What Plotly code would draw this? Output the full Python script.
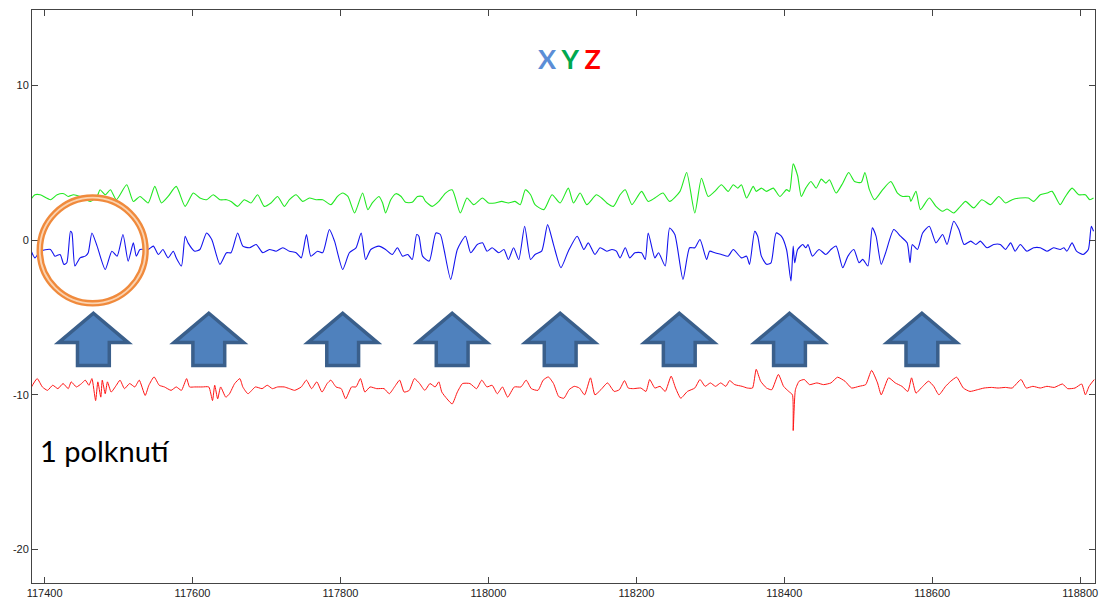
import plotly.graph_objects as go

# ---------------- data ----------------
blue_x = [117381, 117387, 117394, 117408, 117414, 117421, 117426, 117430, 117435, 117437,
          117441, 117448, 117455, 117459, 117464, 117471, 117482, 117491, 117498, 117506,
          117513, 117520, 117524, 117529, 117540, 117547, 117554, 117560, 117567, 117574,
          117578, 117585, 117590, 117594, 117603, 117610, 117619, 117626, 117637, 117646,
          117652, 117661, 117668, 117677, 117686, 117695, 117704, 117713, 117722, 117731,
          117740, 117747, 117754, 117760, 117769, 117776, 117785, 117792, 117803, 117812,
          117821, 117828, 117834, 117841,
          117852, 117861, 117870, 117877, 117884, 117891, 117897, 117903, 117906, 117911,
          117920, 117929, 117935, 117940, 117949, 117958, 117969, 117976, 117985, 117992,
          117998, 118005, 118014, 118021, 118027, 118034, 118041, 118049, 118057, 118063,
          118072, 118080, 118088, 118098, 118108, 118120, 118129, 118135, 118144, 118151,
          118160, 118167, 118173, 118178, 118185, 118191, 118198, 118207, 118212, 118216,
          118225, 118230, 118239, 118245, 118252, 118263, 118272, 118279, 118286, 118295,
          118299, 118306, 118315,
          118324, 118331, 118342, 118349, 118353, 118360, 118364, 118369, 118376, 118382,
          118389, 118396, 118403, 118409, 118412, 118414, 118418, 118425, 118429, 118432,
          118438, 118447, 118456, 118463, 118470, 118479, 118486, 118494, 118501, 118506,
          118513, 118519, 118524, 118531, 118537, 118548, 118557, 118566, 118570, 118573,
          118580, 118587, 118596, 118605, 118614, 118620, 118629, 118636, 118643, 118652,
          118659, 118665, 118674, 118683, 118692, 118699, 118706, 118712, 118719, 118728,
          118737, 118746, 118755, 118764, 118773, 118778, 118782, 118789, 118795, 118804,
          118811, 118815, 118818]
blue_y = [-0.60, -1.14, -0.71, -0.60, -1.03, -0.92, -1.56, -1.46, 0.58, 0.47,
          -1.67, -1.14, -1.03, -0.81, 0.47, -0.38, -1.89, -0.71, -1.03, 0.37,
          -1.35, -0.17, -1.03, -0.60, -0.60, -0.38, -0.92, -0.60, -1.14, -0.71,
          -1.14, -1.67, 0.26, -0.17, -0.71, -0.60, 0.47, 0.05, -1.56, -0.81,
          -0.81, 0.47, -0.38, -0.49, -0.28, -0.81, -0.60, -0.71, -0.49, -0.71,
          -0.81, -1.14, 0.37, -1.03, -0.71, -0.81, 0.69, -0.06, -1.89, -0.81,
          -0.49, 0.47, -1.25, -0.60,
          -0.38, -0.60, -0.92, -0.49, -1.03, -0.92, -1.25, 0.37, 0.26, -1.03,
          -1.35, 0.47, 0.37, -0.60, -2.53, -0.60, 0.26, -0.81, -0.28, -0.17,
          -0.71, -0.49, -0.81, -0.60, -1.25, -0.49, -1.25, 0.90, -1.25, -0.92,
          -0.71, 1.01, -0.28, -1.78, -0.71, 0.26, -0.60, -0.17, -0.92, -0.49,
          -0.71, -0.60, -0.71, -1.14, -0.49, -1.14, -0.81, -0.81, -1.25, 0.47,
          -1.14, -0.81, -1.67, 0.79, 0.37, -2.53, -0.49, -0.49, 0.05, -1.25,
          -0.71, -0.81, -0.92,
          -1.03, -0.60, -1.14, -1.03, -1.56, 0.58, 0.26, -1.03, -1.56, -1.46,
          0.47, 0.26, -0.60, -2.64, -0.38, -1.46, -0.60, -0.28, -0.49, -0.28,
          -1.03, -0.60, -0.92, -0.60, -0.38, -1.78, -1.03, -0.60, -1.46, -1.24,
          -1.67, 0.80, 0.26, -1.56, -0.81, 0.69, 0.26, -0.17, -1.46, -0.28,
          -0.60, 0.47, 0.90, -0.17, 0.37, -0.28, 1.23, 0.69, -0.28, -0.06,
          -0.28, -0.06, -0.49, -0.28, -0.28, -0.60, -0.17, -0.71, -0.28, -0.71,
          -0.49, -0.49, -0.71, -0.49, -0.60, -0.49, -0.71, -0.17, -0.71, -0.92,
          -0.60, 0.90, 0.58]

green_x = [117381, 117387, 117394, 117408, 117417, 117426, 117432, 117439, 117448, 117462,
           117471, 117475, 117482, 117489, 117497, 117511, 117520, 117529, 117540, 117549,
           117558, 117567, 117578, 117590, 117601, 117610, 117619, 117628, 117637, 117646,
           117652, 117661, 117670, 117679, 117688, 117697, 117706, 117715, 117724, 117731,
           117740, 117749, 117758, 117767, 117776, 117787, 117796, 117803, 117810, 117819,
           117823, 117830, 117837, 117843,
           117852, 117857, 117861, 117868, 117875, 117882, 117888, 117897, 117904, 117911,
           117915, 117924, 117933, 117942, 117951, 117962, 117971, 117980, 117992, 118000,
           118009, 118018, 118027, 118036, 118043, 118050, 118057, 118063, 118075, 118086,
           118097, 118108, 118115, 118124, 118133, 118146, 118153, 118160, 118169, 118178,
           118185, 118194, 118207, 118216, 118225, 118236, 118245, 118259, 118268, 118279,
           118288, 118297, 118306, 118315,
           118324, 118331, 118337, 118342, 118349, 118358, 118362, 118369, 118376, 118385,
           118394, 118403, 118407, 118412, 118418, 118423, 118429, 118436, 118443, 118450,
           118456, 118461, 118470, 118479, 118487, 118495, 118504, 118509, 118515, 118522,
           118533, 118544, 118553, 118560, 118569, 118571, 118578, 118584, 118596, 118605,
           118614, 118620, 118629, 118638, 118645, 118656, 118667, 118679, 118690, 118699,
           118708, 118719, 118730, 118737, 118746, 118755, 118762, 118773, 118780, 118789,
           118798, 118807, 118813, 118818]
green_y = [2.62, 2.94, 2.94, 2.62, 2.94, 3.01, 2.83, 2.94, 2.83, 2.51,
           2.83, 3.26, 2.94, 3.26, 2.62, 3.59, 2.51, 2.83, 2.41, 3.48,
           2.41, 2.83, 3.48, 2.19, 3.05, 2.73, 2.62, 2.94, 2.62, 2.62,
           2.51, 2.19, 2.62, 2.41, 2.94, 2.19, 2.41, 2.83, 2.19, 2.62,
           2.94, 2.51, 2.73, 2.62, 2.62, 2.30, 2.83, 3.05, 2.83, 1.76,
           2.19, 3.05, 1.98, 2.41,
           2.83, 2.41, 1.76, 2.62, 3.01, 2.83, 2.45, 2.45, 2.83, 2.83,
           2.51, 2.19, 2.51, 3.05, 3.26, 1.76, 2.73, 2.30, 2.73, 2.41,
           2.41, 2.51, 2.41, 2.51, 2.30, 3.26, 2.94, 2.30, 1.98, 2.94,
           2.41, 3.37, 2.41, 3.05, 2.30, 2.94, 2.73, 2.41, 2.19, 2.94,
           3.26, 2.30, 3.16, 2.51, 2.73, 3.05, 2.51, 3.16, 4.38, 1.76,
           4.01, 2.83, 3.16, 3.59,
           3.16, 3.59, 3.37, 3.59, 2.73, 3.48, 3.16, 3.37, 3.16, 3.37,
           2.83, 3.27, 3.16, 4.94, 4.17, 2.83, 3.37, 3.80, 3.37, 3.95,
           3.69, 3.91, 3.05, 3.69, 4.38, 3.80, 3.74, 4.38, 3.27, 2.62,
           3.27, 3.80, 3.05, 2.83, 2.83, 2.51, 3.16, 1.98, 2.73, 2.19,
           1.87, 2.02, 1.76, 2.19, 2.51, 2.09, 2.62, 2.30, 2.83, 2.41,
           2.62, 2.73, 2.73, 2.51, 2.94, 3.05, 3.16, 2.30, 2.83, 3.37,
           2.94, 2.94, 2.62, 2.73]

red_x = [117381, 117390, 117397, 117404, 117411, 117418, 117425, 117432, 117436, 117443,
         117450, 117455, 117460, 117464, 117469, 117472, 117476, 117478, 117482, 117485,
         117490, 117497, 117502, 117508, 117515, 117522, 117528, 117536, 117541, 117548,
         117555, 117562, 117571, 117578, 117585, 117592, 117596, 117603, 117613, 117622,
         117627, 117630, 117634, 117638, 117645, 117650, 117657, 117664, 117668, 117675,
         117685, 117694, 117701, 117708, 117715, 117724, 117731, 117738, 117747, 117754,
         117761, 117768, 117775, 117782, 117787, 117794, 117801, 117807, 117815, 117821,
         117827, 117833, 117840, 117849, 117859, 117866, 117873, 117880, 117886, 117893,
         117900, 117907, 117914, 117921, 117928, 117933, 117937, 117944, 117951, 117958,
         117965, 117975, 117984, 117991, 117998, 118005, 118012, 118019, 118026, 118035,
         118044, 118051, 118058, 118067, 118074, 118081, 118088,
         118095, 118102, 118109, 118116, 118123, 118130, 118138, 118144, 118152, 118161,
         118170, 118177, 118184, 118189, 118196, 118206, 118213, 118218, 118225, 118232,
         118239, 118247, 118253, 118260, 118269, 118279, 118286, 118293, 118300, 118307,
         118314, 118321, 118326, 118333, 118343, 118350, 118357, 118362, 118368, 118376,
         118383, 118392, 118399, 118406, 118411, 118412, 118415, 118420, 118427, 118434,
         118444, 118453, 118463, 118472, 118482, 118491, 118501, 118510, 118518, 118526,
         118531, 118541, 118550, 118559, 118567, 118572, 118578, 118585, 118595, 118602,
         118609, 118618, 118625, 118633, 118642, 118651, 118661, 118670, 118680, 118689,
         118699, 118708, 118720, 118727, 118736, 118746, 118755, 118765, 118776, 118783,
         118793, 118802, 118807, 118812, 118819]
red_y = [-9.60, -8.95, -9.49, -9.71, -9.38, -9.60, -9.27, -9.60, -9.16, -9.49,
         -9.27, -9.05, -9.38, -8.95, -10.37, -9.16, -10.15, -9.05, -9.93, -9.16,
         -9.82, -9.38, -9.05, -9.60, -9.27, -9.49, -9.05, -10.04, -9.38, -8.84,
         -9.38, -9.49, -9.71, -9.49, -9.71, -8.95, -9.49, -9.49, -9.49, -9.49,
         -10.37, -9.38, -10.26, -9.49, -10.15, -9.93, -9.27, -8.95, -9.49, -9.93,
         -9.49, -9.60, -9.38, -9.60, -9.49, -9.49, -9.60, -9.71, -9.49, -9.05,
         -9.60, -9.16, -9.82, -9.27, -9.05, -9.49, -9.60, -10.26, -9.49, -9.49,
         -8.95, -9.82, -9.49, -9.60, -9.60, -9.93, -9.49, -9.05, -9.82, -9.71,
         -8.95, -9.27, -9.71, -9.27, -9.49, -9.16, -9.82, -10.26, -10.59, -9.82,
         -9.27, -9.27, -9.60, -9.05, -9.49, -9.38, -9.93, -9.49, -10.15, -9.49,
         -9.49, -9.05, -9.60, -9.71, -9.05, -8.84, -9.27,
         -10.11, -10.22, -9.67, -9.45, -9.56, -10.00, -8.90, -10.00, -9.67, -9.23,
         -9.78, -9.67, -9.08, -9.56, -9.60, -9.56, -9.78, -9.01, -9.56, -9.45,
         -9.78, -8.79, -9.56, -10.22, -9.78, -9.56, -9.01, -9.45, -9.23, -9.45,
         -9.23, -9.45, -9.08, -9.34, -9.45, -9.56, -9.56, -8.35, -9.12, -9.56,
         -9.67, -8.68, -9.45, -9.78, -10.00, -12.31, -9.67, -9.12, -9.01, -9.34,
         -9.23, -9.34, -9.23, -8.86, -9.12, -9.56, -9.45, -9.34, -8.42, -9.23,
         -10.00, -8.90, -9.23, -9.45, -9.78, -8.90, -9.89, -9.56, -9.12, -9.45,
         -10.00, -9.45, -9.12, -8.86, -9.56, -9.78, -9.67, -9.56, -9.52, -9.56,
         -9.52, -9.56, -9.01, -9.56, -9.45, -9.56, -9.45, -9.52, -9.30, -9.60,
         -9.56, -9.30, -10.00, -9.45, -9.01]

# swallow markers (x positions of the up arrows)
arrow_x = [117466, 117622, 117803, 117951, 118097, 118258, 118407, 118586]
circle_center = (117465, -0.66)

x_ticks = [117400, 117600, 117800, 118000, 118200, 118400, 118600, 118800]
y_ticks = [-20, -10, 0, 10]
x_range = [117383, 118820]
y_range = [-22.17, 14.89]

# ---------------- styling constants ----------------
ARROW_TIP, ARROW_HEAD, ARROW_BASE = -4.72, -6.62, -8.10
HEAD_HALF, SHAFT_HALF = 47, 21.5
CIRCLE_RX, CIRCLE_RY = 71.5, 3.42

fig = go.Figure()
line_common = dict(width=1.1, shape="spline", smoothing=0.6)
fig.add_trace(go.Scatter(x=green_x, y=green_y, mode="lines",
                         line=dict(color="#22E822", **line_common), hoverinfo="skip"))
fig.add_trace(go.Scatter(x=blue_x, y=blue_y, mode="lines",
                         line=dict(color="#1414EE", **line_common), hoverinfo="skip"))
fig.add_trace(go.Scatter(x=red_x, y=red_y, mode="lines",
                         line=dict(color="#FF1414", width=1.0, shape="spline", smoothing=0.5),
                         hoverinfo="skip"))

shapes = []
for ax in arrow_x:
    path = (f"M {ax-SHAFT_HALF},{ARROW_BASE} L {ax-SHAFT_HALF},{ARROW_HEAD} "
            f"L {ax-HEAD_HALF},{ARROW_HEAD} L {ax},{ARROW_TIP} L {ax+HEAD_HALF},{ARROW_HEAD} "
            f"L {ax+SHAFT_HALF},{ARROW_HEAD} L {ax+SHAFT_HALF},{ARROW_BASE} Z")
    shapes.append(dict(type="path", path=path, xref="x", yref="y",
                       fillcolor="#4F81BD", line=dict(color="#3A5F8B", width=3.5),
                       layer="above"))

cx, cy = circle_center
shapes.append(dict(type="circle", xref="x", yref="y",
                   x0=cx-CIRCLE_RX, x1=cx+CIRCLE_RX, y0=cy-CIRCLE_RY, y1=cy+CIRCLE_RY,
                   line=dict(color="#F08A3C", width=6.5), layer="above"))
shapes.append(dict(type="circle", xref="x", yref="y",
                   x0=cx-CIRCLE_RX, x1=cx+CIRCLE_RX, y0=cy-CIRCLE_RY, y1=cy+CIRCLE_RY,
                   line=dict(color="#FBD3B0", width=1.8), layer="above"))

annotations = [
    dict(x=117391, y=-13.6, xref="x", yref="y", xanchor="left", yanchor="middle",
         text="1 polknutí", showarrow=False,
         font=dict(family="Lato, Open Sans, sans-serif", size=29, color="#000000")),
    dict(x=118110, y=11.76, xref="x", yref="y", xanchor="center", yanchor="middle",
         text=("<b><span style='color:#5B8ED6'>X</span> <span style='color:#00A84F'>Y</span> "
               "<span style='color:#FF0000'>Z</span></b>"),
         showarrow=False,
         font=dict(family="Lato, Open Sans, sans-serif", size=27)),
]

axis_common = dict(showgrid=False, zeroline=False, showline=True, mirror="ticks",
                   linecolor="#444444", linewidth=1, ticks="inside", ticklen=6,
                   tickcolor="#444444", tickwidth=1,
                   tickfont=dict(family="Liberation Sans, Arial, sans-serif", size=11,
                                 color="#222222"))

fig.update_layout(
    width=1107, height=608,
    margin=dict(l=32, r=9, t=10, b=23),
    paper_bgcolor="white", plot_bgcolor="white",
    showlegend=False,
    shapes=shapes, annotations=annotations,
    xaxis=dict(range=x_range, tickvals=x_ticks, ticktext=[str(v) for v in x_ticks],
               **axis_common),
    yaxis=dict(range=y_range, tickvals=y_ticks, ticktext=[str(v) for v in y_ticks],
               **axis_common),
)

fig.write_html("out.html")
